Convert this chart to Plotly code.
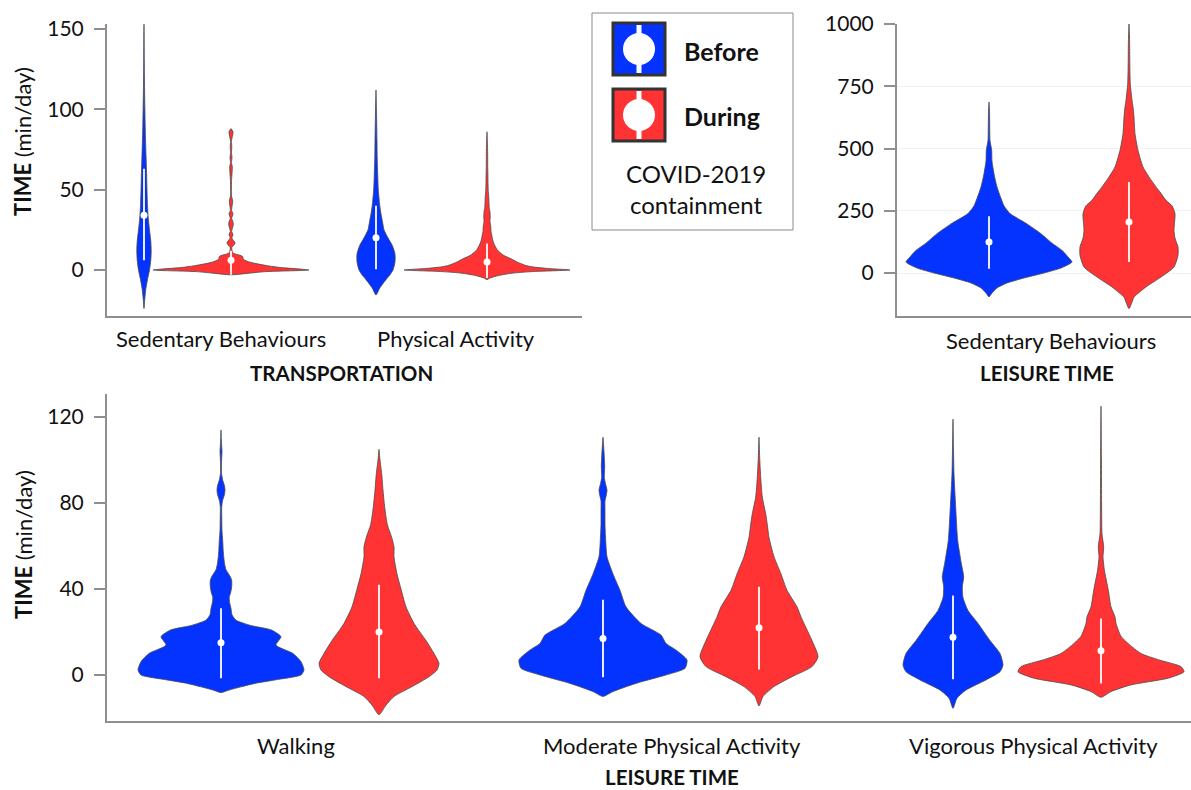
import plotly.graph_objects as go

# ---------------- DATA ----------------
# Categories
TRANSPORT_CATEGORIES = ["Sedentary Behaviours", "Physical Activity"]
LEISURE_SB_CATEGORIES = ["Sedentary Behaviours"]
LEISURE_PA_CATEGORIES = ["Walking", "Moderate Physical Activity", "Vigorous Physical Activity"]

# Tick labels
TRANSPORT_TICKS = [0, 50, 100, 150]
LEISURE_SB_TICKS = [0, 250, 500, 750, 1000]
LEISURE_PA_TICKS = [0, 40, 80, 120]

# Violin density profiles: time levels (min/day) and half-width (density, arbitrary units)
TR_SB_BEFORE_Y = [-24, -18, -12, -6, 0, 6, 12, 18, 25, 32, 40, 50, 60, 70, 80, 90, 100, 115, 130, 153]
TR_SB_BEFORE_D = [0, 0.8, 1.8, 3.5, 5.5, 6.8, 7.2, 6.8, 5.5, 4.3, 3.5, 3.0, 2.6, 2.1, 1.6, 1.2, 0.9, 0.5, 0.3, 0]

TR_SB_DURING_Y = [-3, -2, -1, -0.3, 0, 0.5, 1.5, 2.5, 4, 5, 6, 7, 8, 9, 10, 11, 14, 16, 17, 18, 20, 22, 24,
                  28, 30, 32, 35, 37, 43, 46, 55, 64, 67, 70, 73, 77, 80, 86, 88]
TR_SB_DURING_D = [0, 18, 35, 71, 78, 71, 50, 38, 25, 18, 14, 12, 12, 10, 4, 1.5, 0.8, 3.5, 4, 3, 0.8, 2, 0.7,
                  2.2, 2, 0.7, 2, 0.6, 1.7, 0.5, 0.5, 1.3, 0.5, 1, 0.5, 0.8, 0.4, 2, 0]

TR_PA_BEFORE_Y = [-15.5, -11, -6, -3, 0, 5, 10, 15, 20, 25, 30, 35, 40, 50, 60, 70, 80, 95, 112]
TR_PA_BEFORE_D = [0, 4, 10, 14, 17, 19, 19, 16.5, 12, 8, 6.5, 5, 3.8, 2.3, 1.7, 1.2, 1.0, 0.6, 0]

TR_PA_DURING_Y = [-6, -5, -4, -3, -2, -1, 0, 1, 2, 3, 5, 7, 9, 12, 15, 18, 21, 24, 27, 30, 33, 36, 39, 42,
                  45, 50, 55, 60, 65, 70, 78, 86]
TR_PA_DURING_D = [0, 3, 8, 15, 25, 45, 83, 60, 45, 38, 30, 24, 17, 11, 8, 6, 5, 4, 3.8, 3.0, 3.2, 3, 2.2, 2,
                  1.8, 1.2, 1, 0.9, 0.7, 0.7, 0.5, 0]

LT_SB_BEFORE_Y = [-96, -80, -60, -40, -20, 0, 20, 44, 60, 91, 120, 158, 200, 239, 270, 300, 346, 380, 400,
                  450, 493, 533, 600, 650, 687]
LT_SB_BEFORE_D = [0, 3, 8, 18, 35, 55, 72, 83, 80, 73, 63, 52, 37, 21, 15, 12, 8, 6, 5, 3, 2.7, 1, 0.7, 0.5, 0]

LT_SB_DURING_Y = [-143, -117, -97, -56, -16, 24, 71, 105, 140, 172, 200, 239, 270, 292, 320, 346, 380, 426,
                  493, 560, 627, 667, 694, 761, 850, 930, 1005]
LT_SB_DURING_D = [0, 3, 5, 17, 32, 45, 49, 49, 46, 45, 45.5, 46, 43, 37, 32, 27, 21, 14, 9, 6, 5, 4, 3, 1.3,
                  0.8, 0.6, 0]

LT_WALK_BEFORE_Y = [-8.2, -7, -5.4, -3.9, -2.3, 0, 2.3, 6.2, 10, 13.9, 17.8, 21, 23, 25.5, 28, 31, 34, 36.4,
                    38, 41, 44, 46, 49, 52, 55, 58, 62.6, 67, 72, 78, 81, 84, 86, 88, 91, 94, 100, 104, 107, 110, 114]
LT_WALK_BEFORE_D = [0, 8, 21, 34, 54, 80, 83, 80, 72, 55, 60, 50, 30, 15, 11, 10, 8.5, 8.3, 9.5, 10.7, 10.7,
                    9, 5, 3.5, 2.7, 2.2, 1.7, 1, 0.8, 0.7, 1.5, 3.5, 4, 3.5, 1.5, 0.5, 0.6, 1, 0.6, 0.3, 0]

LT_WALK_DURING_Y = [-18.5, -14, -10, -5.4, -0.8, 2.3, 5.4, 10, 16, 24, 31.7, 40, 47, 55, 59.6, 64, 70, 78,
                    86, 93.6, 100, 105]
LT_WALK_DURING_D = [0, 7, 15, 33, 50, 58, 60, 55, 47, 35, 27, 22, 18, 15, 15, 12.7, 8.3, 5.7, 4, 2.7, 1, 0]

LT_MOD_BEFORE_Y = [-10, -7.7, -3.9, 0, 3.1, 7, 11.6, 14.7, 18.6, 24, 31.7, 39.4, 47, 55, 62.6, 70, 76, 81,
                   83, 86, 89, 92, 96.7, 104, 110.6]
LT_MOD_BEFORE_D = [0, 10, 33, 63, 82, 84, 73, 63, 58, 38, 23, 17, 10, 4, 2.7, 2, 2, 2, 3, 4, 2.5, 1.3, 1.7, 1, 0]

LT_MOD_DURING_Y = [-14.4, -10, -5.4, -0.8, 3.9, 8.5, 16, 24, 27, 31.7, 39.4, 47, 55, 64, 70, 75, 82.8, 92,
                   101, 110.6]
LT_MOD_DURING_D = [0, 4, 15, 33, 53, 59, 53, 45, 42, 38, 28, 22, 15, 10, 8.3, 6.7, 3.3, 1.7, 0.7, 0]

LT_VIG_BEFORE_Y = [-15.5, -10.8, -7, -2.3, 1.5, 4.6, 10, 16, 24, 30, 36, 41, 45.6, 52, 62.6, 78, 93.6, 105, 119]
LT_VIG_BEFORE_D = [0, 4, 13, 33, 47, 50, 47, 37, 25, 15, 10, 9.3, 10.7, 8.3, 4.7, 2.7, 1, 0.5, 0]

LT_VIG_DURING_Y = [-10.4, -7.7, -4.6, -1.5, 1.5, 3.9, 7, 10, 14.7, 18, 24, 27, 31.7, 39.4, 49, 55, 59.6,
                   65.7, 80, 100, 125]
LT_VIG_DURING_D = [0, 10, 30, 67, 83, 80, 58, 40, 27, 20, 15, 14, 10, 7.3, 3.3, 2, 2.7, 1, 0.6, 0.4, 0]

# Summary statistics: median and inner white line (low / high)
TRANSPORT_BEFORE_MEDIAN = [34, 20]
TRANSPORT_BEFORE_LOW = [6, 0.5]
TRANSPORT_BEFORE_HIGH = [63, 40]
TRANSPORT_DURING_MEDIAN = [6, 5]
TRANSPORT_DURING_LOW = [-3, -5]
TRANSPORT_DURING_HIGH = [12, 16.5]

LEISURE_SB_BEFORE_MEDIAN = [125]
LEISURE_SB_BEFORE_LOW = [17]
LEISURE_SB_BEFORE_HIGH = [228]
LEISURE_SB_DURING_MEDIAN = [205]
LEISURE_SB_DURING_LOW = [44]
LEISURE_SB_DURING_HIGH = [366]

LEISURE_PA_BEFORE_MEDIAN = [15, 17, 17.5]
LEISURE_PA_BEFORE_LOW = [-1.5, -1, -2]
LEISURE_PA_BEFORE_HIGH = [31, 35, 37]
LEISURE_PA_DURING_MEDIAN = [20, 22, 11.3]
LEISURE_PA_DURING_LOW = [-1.5, 2.6, -3.9]
LEISURE_PA_DURING_HIGH = [42, 41, 26.3]

# ---------------- LAYOUT / STYLE ----------------
W, H = 1191, 790
FONT = "Lato"
BLUE = "#0433FF"
RED = "#FF3333"
OUTLINE = "#4a4a4a"
AXIS_GREY = "#8f8f8f"


def px(x):
    return x / W


def py(y):
    return 1 - y / H


# panel boxes in pixels (left, right, top, bottom), y ranges, grid visibility
PANELS = {
    "tl": dict(ax="", box=(107, 582, 24, 316), yrange=(-28.63, 153.1), ticks=TRANSPORT_TICKS, grid=False),
    "tr": dict(ax="2", box=(897, 1191, 24, 316), yrange=(-172.7, 1000.5), ticks=LEISURE_SB_TICKS, grid=True),
    "bt": dict(ax="3", box=(107, 1191, 394, 721), yrange=(-21.4, 130.7), ticks=LEISURE_PA_TICKS, grid=False),
}

# violin centre positions (pixels from page left) - layout
TL_BEFORE_POS = [144, 376]
TL_DURING_POS = [231, 487]
TR_BEFORE_POS = [989]
TR_DURING_POS = [1129]
BT_BEFORE_POS = [221, 603, 953]
BT_DURING_POS = [379, 759, 1101]
TL_LABEL_POS = [221, 456]
TR_LABEL_POS = [1051]
BT_LABEL_POS = [296, 672, 1033]

fig = go.Figure()


def add_violin(panel, pos_px, ys, ds, color, med, lo, hi):
    p = PANELS[panel]
    left = p["box"][0]
    xc = pos_px - left
    xs = [xc + d for d in ds] + [xc - d for d in reversed(ds)]
    yy = list(ys) + list(reversed(ys))
    xa = "x" + p["ax"]
    ya = "y" + p["ax"]
    fig.add_trace(go.Scatter(
        x=xs, y=yy, mode="lines", fill="toself", fillcolor=color,
        line=dict(color=OUTLINE, width=0.8, shape="spline", smoothing=0.6),
        xaxis=xa, yaxis=ya, showlegend=False, hoverinfo="skip"))
    fig.add_trace(go.Scatter(
        x=[xc, xc], y=[lo, hi], mode="lines", line=dict(color="white", width=1.8),
        xaxis=xa, yaxis=ya, showlegend=False, hoverinfo="skip"))
    fig.add_trace(go.Scatter(
        x=[xc], y=[med], mode="markers", marker=dict(color="white", size=7),
        xaxis=xa, yaxis=ya, showlegend=False, hoverinfo="skip"))


# Transportation panel
tl_before = [(TR_SB_BEFORE_Y, TR_SB_BEFORE_D), (TR_PA_BEFORE_Y, TR_PA_BEFORE_D)]
tl_during = [(TR_SB_DURING_Y, TR_SB_DURING_D), (TR_PA_DURING_Y, TR_PA_DURING_D)]
for i in range(len(TRANSPORT_CATEGORIES)):
    add_violin("tl", TL_BEFORE_POS[i], *tl_before[i], BLUE,
               TRANSPORT_BEFORE_MEDIAN[i], TRANSPORT_BEFORE_LOW[i], TRANSPORT_BEFORE_HIGH[i])
    add_violin("tl", TL_DURING_POS[i], *tl_during[i], RED,
               TRANSPORT_DURING_MEDIAN[i], TRANSPORT_DURING_LOW[i], TRANSPORT_DURING_HIGH[i])

# Leisure sedentary panel
add_violin("tr", TR_BEFORE_POS[0], LT_SB_BEFORE_Y, LT_SB_BEFORE_D, BLUE,
           LEISURE_SB_BEFORE_MEDIAN[0], LEISURE_SB_BEFORE_LOW[0], LEISURE_SB_BEFORE_HIGH[0])
add_violin("tr", TR_DURING_POS[0], LT_SB_DURING_Y, LT_SB_DURING_D, RED,
           LEISURE_SB_DURING_MEDIAN[0], LEISURE_SB_DURING_LOW[0], LEISURE_SB_DURING_HIGH[0])

# Leisure physical activity panel
bt_before = [(LT_WALK_BEFORE_Y, LT_WALK_BEFORE_D), (LT_MOD_BEFORE_Y, LT_MOD_BEFORE_D),
             (LT_VIG_BEFORE_Y, LT_VIG_BEFORE_D)]
bt_during = [(LT_WALK_DURING_Y, LT_WALK_DURING_D), (LT_MOD_DURING_Y, LT_MOD_DURING_D),
             (LT_VIG_DURING_Y, LT_VIG_DURING_D)]
for i in range(len(LEISURE_PA_CATEGORIES)):
    add_violin("bt", BT_BEFORE_POS[i], *bt_before[i], BLUE,
               LEISURE_PA_BEFORE_MEDIAN[i], LEISURE_PA_BEFORE_LOW[i], LEISURE_PA_BEFORE_HIGH[i])
    add_violin("bt", BT_DURING_POS[i], *bt_during[i], RED,
               LEISURE_PA_DURING_MEDIAN[i], LEISURE_PA_DURING_LOW[i], LEISURE_PA_DURING_HIGH[i])

# Axes
layout_axes = {}
for key, p in PANELS.items():
    l, r, t, b = p["box"]
    xname = "xaxis" + p["ax"]
    yname = "yaxis" + p["ax"]
    layout_axes[xname] = dict(
        domain=[px(l), px(r)], range=[0, r - l], showgrid=False, zeroline=False,
        showline=True, linecolor=AXIS_GREY, linewidth=2, ticks="", showticklabels=False,
        anchor="y" + p["ax"], fixedrange=True, automargin=False)
    layout_axes[yname] = dict(
        domain=[py(b), py(t)], range=list(p["yrange"]), showgrid=p["grid"], gridcolor="#f1f1f1",
        gridwidth=1, zeroline=False, showline=True, linecolor=AXIS_GREY, linewidth=2,
        ticks="outside", ticklen=11, tickwidth=2, tickcolor=AXIS_GREY, ticklabelstandoff=6,
        tickvals=p["ticks"], ticktext=[str(v) for v in p["ticks"]],
        tickfont=dict(family=FONT, size=21, color="#111"),
        anchor="x" + p["ax"], fixedrange=True, automargin=False)
fig.update_layout(**layout_axes)

annotations = []
# category labels
for lab, xp in zip(TRANSPORT_CATEGORIES, TL_LABEL_POS):
    annotations.append(dict(x=px(xp), y=py(338), text=lab))
for lab, xp in zip(LEISURE_SB_CATEGORIES, TR_LABEL_POS):
    annotations.append(dict(x=px(xp), y=py(340), text=lab))
for lab, xp in zip(LEISURE_PA_CATEGORIES, BT_LABEL_POS):
    annotations.append(dict(x=px(xp), y=py(745), text=lab))
cat_ann = [dict(a, xref="paper", yref="paper", showarrow=False, xanchor="center", yanchor="middle",
                font=dict(family=FONT, size=22, color="#111")) for a in annotations]

group_ann = [
    dict(x=px(341), y=py(373), text="<b>TRANSPORTATION</b>"),
    dict(x=px(1047), y=py(373), text="<b>LEISURE TIME</b>"),
    dict(x=px(672), y=py(777), text="<b>LEISURE TIME</b>"),
]
group_ann = [dict(a, xref="paper", yref="paper", showarrow=False, xanchor="center", yanchor="middle",
                  font=dict(family=FONT, size=20.5, color="#111")) for a in group_ann]

ytitle_ann = [
    dict(x=px(23), y=py(142), text="<b>TIME</b> (min/day)"),
    dict(x=px(23), y=py(545), text="<b>TIME</b> (min/day)"),
]
ytitle_ann = [dict(a, xref="paper", yref="paper", showarrow=False, xanchor="center", yanchor="middle",
                   textangle=-90, font=dict(family=FONT, size=22, color="#111")) for a in ytitle_ann]

legend_ann = [
    dict(x=px(682), y=py(51), text="<b>Before</b>", xanchor="left", size=25),
    dict(x=px(682), y=py(116), text="<b>During</b>", xanchor="left", size=25),
    dict(x=px(696), y=py(173), text="COVID-2019", xanchor="center", size=24),
    dict(x=px(696), y=py(204), text="containment", xanchor="center", size=24),
]
legend_ann = [dict({k: v for k, v in a.items() if k != "size"}, xref="paper", yref="paper",
                   showarrow=False, yanchor="middle",
                   font=dict(family=FONT, size=a["size"], color="#111")) for a in legend_ann]

shapes = []
# legend frame
shapes.append(dict(type="rect", xref="paper", yref="paper", x0=px(592), x1=px(793), y0=py(230), y1=py(13),
                   line=dict(color="#8a8a8a", width=1), fillcolor="white", layer="below"))
for color, top in [(BLUE, 23), (RED, 89)]:
    x0, x1, y0, y1 = 613, 665, top, top + 52
    cx, cy = (x0 + x1) / 2, (y0 + y1) / 2
    shapes.append(dict(type="rect", xref="paper", yref="paper", x0=px(x0), x1=px(x1), y0=py(y1), y1=py(y0),
                       fillcolor=color, line=dict(color="#333", width=3)))
    shapes.append(dict(type="rect", xref="paper", yref="paper", x0=px(cx - 2.5), x1=px(cx + 2.5),
                       y0=py(y1 - 2), y1=py(y0 + 2), fillcolor="white", line=dict(width=0)))
    shapes.append(dict(type="circle", xref="paper", yref="paper", x0=px(cx - 16), x1=px(cx + 16),
                       y0=py(cy + 16), y1=py(cy - 16), fillcolor="white", line=dict(width=0)))

fig.update_layout(
    width=W, height=H, margin=dict(l=0, r=0, t=0, b=0, pad=0, autoexpand=False),
    paper_bgcolor="white", plot_bgcolor="rgba(0,0,0,0)",
    annotations=cat_ann + group_ann + ytitle_ann + legend_ann,
    shapes=shapes, showlegend=False,
    font=dict(family=FONT, color="#111"),
)

fig.write_html("out.html", config={"displayModeBar": False},
               post_script="document.body.style.margin='0px';")
